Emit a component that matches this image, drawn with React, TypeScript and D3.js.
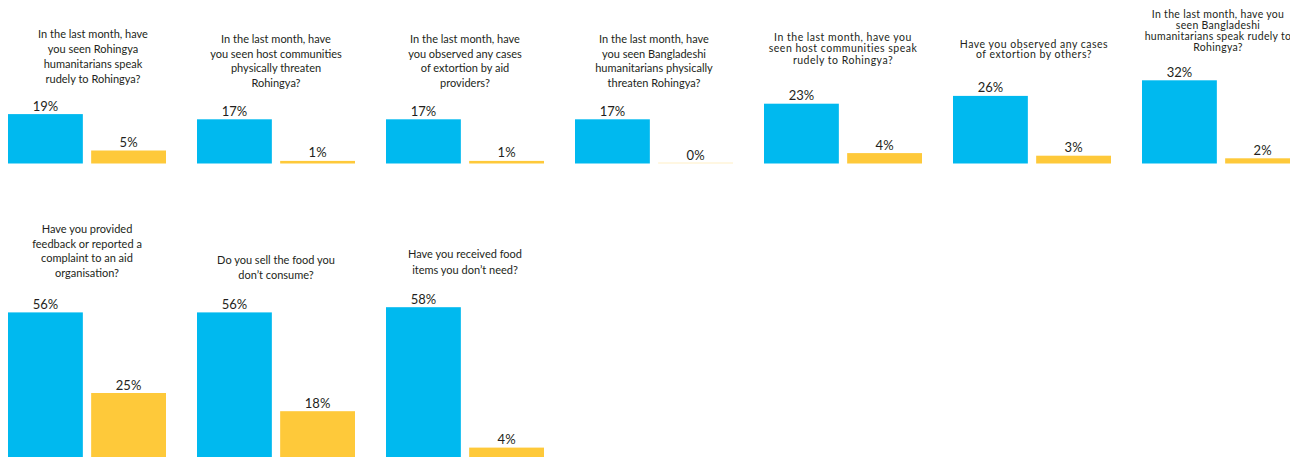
import React from 'react';
import * as d3 from 'd3';

// ---- data ----
const questions: string[][] = [
  ["In the last month, have", "you seen Rohingya", "humanitarians speak", "rudely to Rohingya?"],
  ["In the last month, have", "you seen host communities", "physically threaten", "Rohingya?"],
  ["In the last month, have", "you observed any cases", "of extortion by aid", "providers?"],
  ["In the last month, have", "you seen Bangladeshi", "humanitarians physically", "threaten Rohingya?"],
  ["In the last month, have you", "seen host communities speak", "rudely to Rohingya?"],
  ["Have you observed any cases", "of extortion by others?"],
  ["In the last month, have you", "seen Bangladeshi", "humanitarians speak rudely to", "Rohingya?"],
  ["Have you provided", "feedback or reported a", "complaint to an aid", "organisation?"],
  ["Do you sell the food you", "don\u2019t consume?"],
  ["Have you received food", "items you don\u2019t need?"],
];
const blueValues = [19, 17, 17, 17, 23, 26, 32, 56, 56, 58];
const yellowValues = [5, 1, 1, 0, 4, 3, 2, 25, 18, 4];
const seriesKeys = ["blue", "yellow"];

// ---- layout (not data) ----
const W = 1290, H = 457;
const perRow = 7;
const rowBaselines = [163.5, 458];
const titleFirstBaseline = [38, 43, 43, 43, 40.5, 47.5, 17.5, 233, 264, 258];
const titleLineHeight = [15, 14.5, 14.5, 14.5, 11.5, 10.5, 11, 14.7, 15.3, 15.5];
const titleFontSize = [11, 11, 11, 11, 10.5, 10.5, 10.5, 11, 11, 11];
const titleLetterSpacing = [0, 0, 0, 0, 0.5, 0.5, 0.3, 0, 0, 0];
const titleDx = [6, 0, 0, 0, 0, 2, -3, 0, 0, 0];
const colors: Record<string, string> = { blue: "#00b9ef", yellow: "#fec93a" };
const textColor = "#231f20";
const font = "Lato, 'Open Sans', sans-serif";

export default function App() {
  const colScale = d3.scaleBand<number>().domain(d3.range(perRow)).range([8, 8 + 189 * perRow]).padding(0);
  const groupWidth = 158;
  const barScale = d3.scaleBand<string>().domain(seriesKeys).range([0, groupWidth]).paddingInner(0.1).paddingOuter(0);
  const yScale = d3.scaleLinear().domain([0, 100]).range([0, 260]);

  return (
    <svg width={W} height={H} style={{ position: 'absolute', left: 0, top: 0, background: '#fff' }} fontFamily={font}>
      {questions.map((lines, i) => {
        const row = i < perRow ? 0 : 1;
        const col = i < perRow ? i : i - perRow;
        const x0 = colScale(col) as number;
        const base = rowBaselines[row];
        const vals: Record<string, number> = { blue: blueValues[i], yellow: yellowValues[i] };
        const cx = x0 + groupWidth / 2 + titleDx[i];
        return (
          <g key={i}>
            <text textAnchor="middle" fill={textColor} fontSize={titleFontSize[i]} letterSpacing={titleLetterSpacing[i]}>
              {lines.map((ln, j) => (
                <tspan key={j} x={cx} y={titleFirstBaseline[i] + j * titleLineHeight[i]}>{ln}</tspan>
              ))}
            </text>
            {seriesKeys.map((k) => {
              const v = vals[k];
              const h = yScale(v);
              const bx = x0 + (barScale(k) as number);
              const bw = barScale.bandwidth();
              return (
                <g key={k}>
                  {v > 0 ? (
                    <rect x={bx} y={base - h} width={bw} height={h} fill={colors[k]} />
                  ) : (
                    <rect x={bx} y={base - 1} width={bw} height={1} fill={colors[k]} opacity={0.3} />
                  )}
                  <text x={bx + bw / 2} y={base - h - 3.5} textAnchor="middle" fontSize={13} fill={textColor}>
                    {d3.format(".0f")(v)}%
                  </text>
                </g>
              );
            })}
          </g>
        );
      })}
    </svg>
  );
}
